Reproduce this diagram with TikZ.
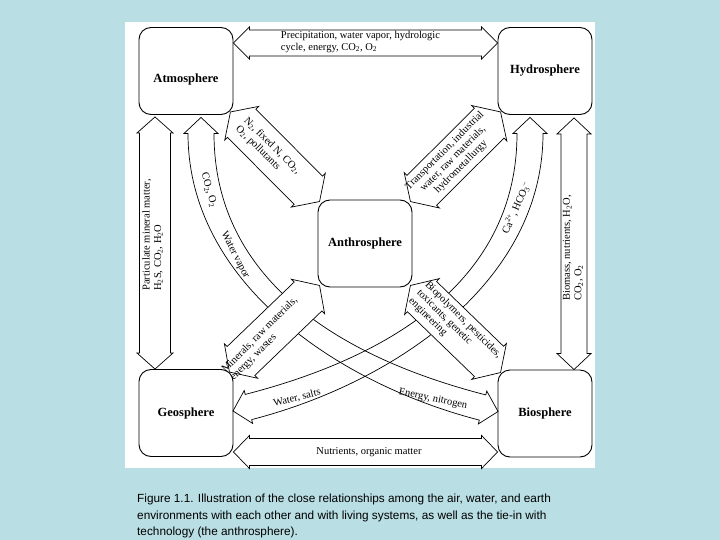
\documentclass[tikz,border=0pt]{standalone}
\usepackage{fontspec}
\setmainfont{Liberation Serif}
\newfontfamily\captionfont{Liberation Sans}
\usetikzlibrary{calc}

\definecolor{fondo}{RGB}{185,222,227}

% Flecha doble recta: puntas #1 y #2, medio ancho #3, medio ancho de punta #4
\newcommand{\dobleflecha}[4]{%
  \path #1 coordinate (fa) #2 coordinate (fb);
  \coordinate (fa0) at ($(fa)!16pt!(fb)$);
  \coordinate (fb0) at ($(fb)!16pt!(fa)$);
  \draw[flecha] (fa) -- ($(fa0)!#4!90:(fb)$) -- ($(fa0)!#3!90:(fb)$)
    -- ($(fb0)!#3!-90:(fa)$) -- ($(fb0)!#4!-90:(fa)$) -- (fb)
    -- ($(fb0)!#4!90:(fa)$) -- ($(fb0)!#3!90:(fa)$)
    -- ($(fa0)!#3!-90:(fb)$) -- ($(fa0)!#4!-90:(fb)$) -- cycle;
}

% Flecha doble curva: puntos de control #1..#4 de la linea central
\newcommand{\arcoflecha}[4]{%
  \draw[flecha, fill=none] ($(#1)!-16pt!(#2)$) -- ($(#1)!17pt!90:(#2)$)
    -- ($(#1)!13pt!90:(#2)$)
    .. controls ($(#2)!13pt!-90:(#1)$) and ($(#3)!13pt!90:(#4)$) .. ($(#4)!13pt!-90:(#3)$)
    -- ($(#4)!17pt!-90:(#3)$) -- ($(#4)!-16pt!(#3)$) -- ($(#4)!17pt!90:(#3)$)
    -- ($(#4)!13pt!90:(#3)$)
    .. controls ($(#3)!13pt!-90:(#4)$) and ($(#2)!13pt!90:(#1)$) .. ($(#1)!13pt!-90:(#2)$)
    -- ($(#1)!17pt!-90:(#2)$) -- cycle;
}

\begin{document}
\begin{tikzpicture}[x=1pt, y=-1pt,
  caja/.style={draw, rounded corners=12pt, minimum width=94pt, minimum height=87pt,
    line width=0.9pt, fill=white, font=\bfseries\fontsize{12.5}{14}\selectfont},
  flecha/.style={draw, fill=white, line width=0.7pt, line join=miter},
  etiq/.style={font=\fontsize{10.5}{11.5}\selectfont, inner sep=0pt, align=left}]

% Fondo
\useasboundingbox (0,0) rectangle (720,540);
\fill[fondo] (0,0) rectangle (720,540);
\fill[white] (125,22) rectangle (595,468);

% Esferas
\node[caja] (atm)  at (186,71) {};
\node[caja] (hyd)  at (545,71) {Hydrosphere};
\node[caja] (anth) at (365,243.5) {Anthrosphere};
\node[caja] (geo)  at (186,413) {Geosphere};
\node[caja] (bio)  at (545,413.5) {Biosphere};
\node[font=\bfseries\fontsize{12.5}{14}\selectfont] (atmr) at ([yshift=-8pt]atm.center) {Atmosphere};

% Arcos que se cruzan
\coordinate (a0) at ($(atm.south)+(15,18.5)$);
\coordinate (a1) at ($(a0)+(0,150)$);
\coordinate (a3) at ($(bio.west)+(-15,-6)$);
\coordinate (a2) at ($(a3)+(-140,-36)$);
\arcoflecha{a0}{a1}{a2}{a3}

\coordinate (b0) at ($(hyd.south)+(-15,18.5)$);
\coordinate (b1) at ($(b0)+(0,150)$);
\coordinate (b3) at ($(geo.east)+(15,-6)$);
\coordinate (b2) at ($(b3)+(140,-36)$);
\arcoflecha{b0}{b1}{b2}{b3}

% Flechas rectas
\dobleflecha{([yshift=28pt]atm.east)}{([yshift=28pt]hyd.west)}{13pt}{16pt}
\dobleflecha{([yshift=-39pt]geo.east)}{([yshift=-38.5pt]bio.west)}{13.5pt}{16.5pt}
\dobleflecha{([xshift=-31pt,yshift=-2pt]atm.south)}{([xshift=-31pt]geo.north)}{15.5pt}{18pt}
\dobleflecha{([xshift=29pt,yshift=-3pt]hyd.south)}{([xshift=29pt]bio.north)}{13pt}{17pt}
\dobleflecha{($(atm.south east)+(-3,-3)$)}{($(anth.north west)+(2,2)$)}{20pt}{24pt}
\dobleflecha{($(hyd.south west)+(3,-3)$)}{($(anth.north east)+(-2,2)$)}{21pt}{25pt}
\dobleflecha{($(geo.north east)+(-4,3)$)}{($(anth.south west)+(2,-2)$)}{20pt}{24pt}
\dobleflecha{($(anth.south east)+(-2,-2)$)}{($(bio.north west)+(3,3)$)}{21pt}{25pt}

% Textos
\node[etiq] (tsup) at (360.5,42) {Precipitation, water vapor, hydrologic\\cycle, energy, CO\textsubscript{2}, O\textsubscript{2}};
\node[etiq] (tinf) at (369,452) {Nutrients, organic matter};
\node[etiq, rotate=90] (tizq) at (152.5,235) {Particulate mineral matter,\\H\textsubscript{2}S, CO\textsubscript{2}, H\textsubscript{2}O};
\node[etiq, rotate=90] (tder) at (573,248) {Biomass, nutrients, H\textsubscript{2}O,\\CO\textsubscript{2}, O\textsubscript{2}};
\node[etiq, rotate=-74] (tco) at (209,190) {CO\textsubscript{2}, O\textsubscript{2}};
\node[etiq, rotate=-63] (tvap) at (235,255) {Water vapor};
\node[etiq, rotate=66] (tca) at (516,208) {Ca\textsuperscript{2+}, HCO\textsubscript{3}\textsuperscript{--}};
\node[etiq, rotate=14] (tsal) at (297,398) {Water, salts};
\node[etiq, rotate=-12] (tene) at (433,399) {Energy, nitrogen};
\node[etiq, rotate=-45] (tnit) at (268,150) {N\textsubscript{2}, fixed N, CO\textsubscript{2},\\O\textsubscript{2}, pollutants};
\node[etiq, rotate=45, align=center] (ttra) at (453,159) {Transportation, industrial\\water, raw materials,\\hydrometallurgy};
\node[etiq, rotate=45] (tmin) at (264,339) {Minerals, raw materials,\\energy, wastes};
\node[etiq, rotate=-45] (tbio) at (455,328) {Biopolymers, pesticides,\\toxicants, genetic\\engineering};

% Pie de figura
\node[anchor=north west, inner sep=0pt, align=left,
  font=\captionfont\fontsize{11.8}{16.5}\selectfont] (pie) at (137,494)
  {Figure 1.1. Illustration of the close relationships among the air, water, and earth\\
   environments with each other and with living systems, as well as the tie-in with\\
   technology (the anthrosphere).};
\end{tikzpicture}
\end{document}
